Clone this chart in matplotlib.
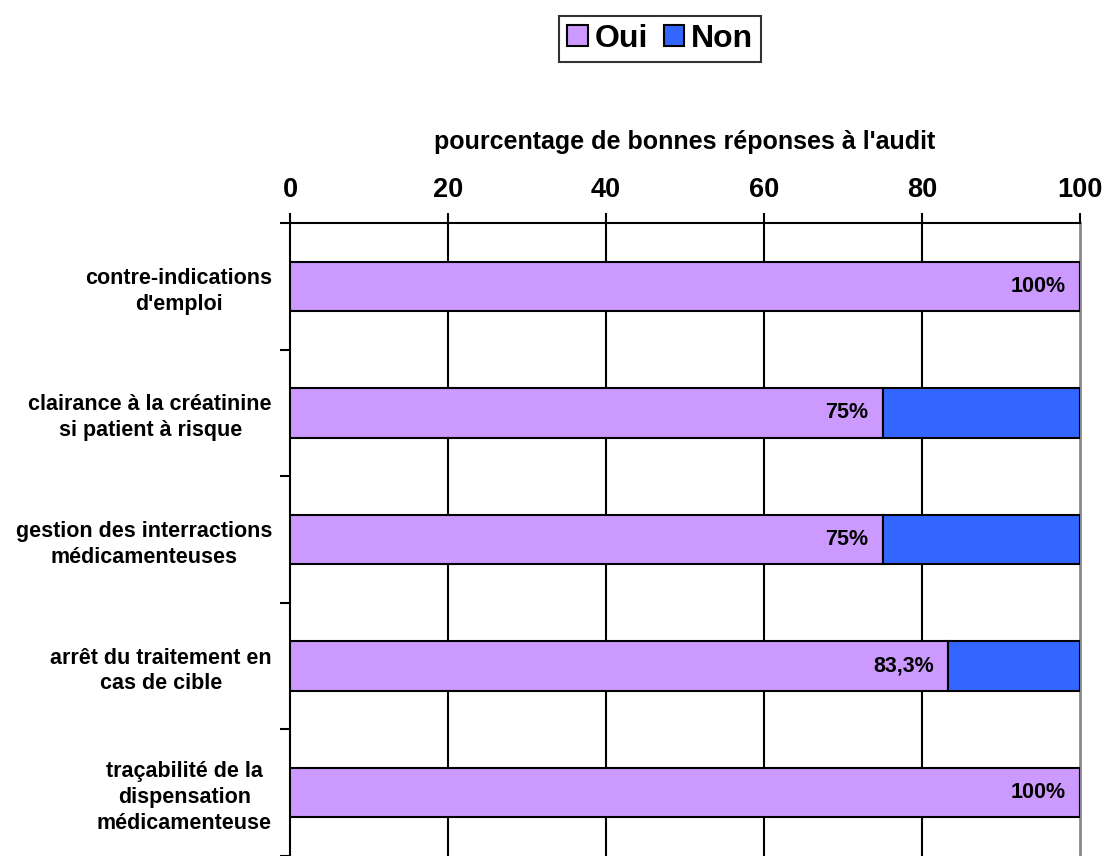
import matplotlib
matplotlib.use("Agg")
import matplotlib.pyplot as plt
import numpy as np
from matplotlib.patches import Patch

plt.rcParams["font.family"] = ["Liberation Sans", "DejaVu Sans"]
plt.rcParams["font.weight"] = "bold"

categories = [
    "contre-indications\nd'emploi",
    "clairance à la créatinine\nsi patient à risque",
    "gestion des interractions\nmédicamenteuses",
    "arrêt du traitement en\ncas de cible",
    "traçabilité de la\ndispensation\nmédicamenteuse",
]
oui = [100, 75, 75, 83.3, 100]
non = [0, 25, 25, 16.7, 0]
labels = ["100%", "75%", "75%", "83,3%", "100%"]
xticks = [0, 20, 40, 60, 80, 100]

color_oui = "#CC99FF"
color_non = "#3366FF"

fig = plt.figure(figsize=(11.05, 8.56), dpi=100)
ax = fig.add_axes([290 / 1105, 0.0, 790 / 1105, 633 / 856])

y = np.arange(len(categories))
ax.set_axisbelow(True)
ax.barh(y, oui, height=0.39, color=color_oui, edgecolor="black", linewidth=1.5, zorder=3)
ax.barh(y, non, left=oui, height=0.39, color=color_non, edgecolor="black", linewidth=1.5, zorder=3)

for yi, val, lab in zip(y, oui, labels):
    ax.annotate(lab, xy=(val, yi), xytext=(-10, 0), textcoords="offset points",
                ha="right", va="center", fontsize=15.5, fontweight="bold", zorder=4)

ax.set_xlim(0, 100)
ax.set_ylim(-0.5 + 633 / 127.5, -0.5)

ax.xaxis.tick_top()
ax.xaxis.set_label_position("top")
ax.set_xticks(xticks)
ax.set_xticklabels([str(t) for t in xticks], fontsize=19.5, fontweight="bold")
ax.tick_params(axis="x", which="major", length=7, width=1.5, pad=7.5, color="black")
ax.set_xlabel("pourcentage de bonnes réponses à l'audit", fontsize=18, fontweight="bold", labelpad=20)

ax.set_yticks(y)
ax.set_yticklabels(categories, fontsize=15.5, fontweight="bold", ha="right", multialignment="center", linespacing=1.3)
ax.tick_params(axis="y", which="major", length=0, pad=13)
ax.set_yticks(np.arange(-0.5, len(categories), 1.0), minor=True)
ax.tick_params(axis="y", which="minor", length=7, width=1.5, color="black")

for t in [20, 40, 60, 80]:
    ax.axvline(t, color="black", linewidth=1.5, zorder=1)

ax.spines["bottom"].set_visible(False)
ax.spines["top"].set_linewidth(1.5)
ax.spines["left"].set_linewidth(1.5)
ax.spines["right"].set_color("#888888")
ax.spines["right"].set_linewidth(2)

handles = [Patch(facecolor=color_oui, edgecolor="black", linewidth=1.5),
           Patch(facecolor=color_non, edgecolor="black", linewidth=1.5)]
leg = fig.legend(handles, ["Oui", "Non"], loc="center", bbox_to_anchor=(660 / 1105, 1 - 39 / 856),
                 ncol=2, prop={"weight": "bold", "size": 23}, frameon=True, fancybox=False,
                 edgecolor="black", handlelength=0.65, handleheight=0.65, handletextpad=0.2,
                 columnspacing=0.5, borderpad=0.25, borderaxespad=0)
leg.get_frame().set_linewidth(1.5)

fig.savefig("out.png", dpi=100)
